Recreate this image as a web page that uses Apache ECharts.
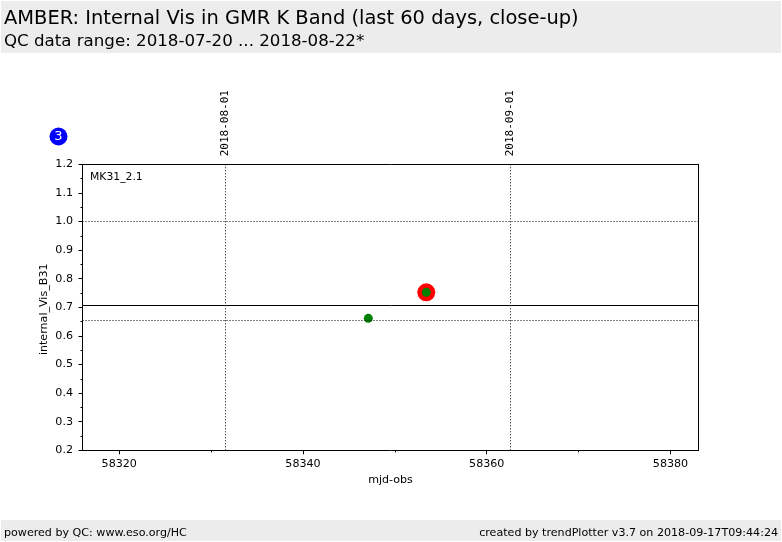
<!DOCTYPE html>
<html><head><meta charset="utf-8">
<style>html,body{margin:0;padding:0;background:#fff}#c{width:782px;height:542px}</style>
<script src="https://cdn.jsdelivr.net/npm/echarts@6/dist/echarts.min.js"></script>
</head><body><div id="c"></div>
<script>
const titleLine1 = 'AMBER: Internal Vis in GMR K Band (last 60 days, close-up)';
const titleLine2 = 'QC data range: 2018-07-20 ... 2018-08-22*';
const footerLeft = 'powered by QC: www.eso.org/HC';
const footerRight = 'created by trendPlotter v3.7 on 2018-09-17T09:44:24';
const panelLabel = 'MK31_2.1';
const badgeText = '3';
const xMajorTicks = [58320, 58340, 58360, 58380];
const xMinorTicks = [58330, 58350, 58370];
const points = [[58347.11, 0.6615], [58353.42, 0.7524]];
const outlierPoints = [[58353.42, 0.7524]];
const meanValue = 0.7063;
const dottedValues = [1.0, 0.6538];
const dateLines = [[58331.566, '2018-08-01'], [58362.587, '2018-09-01']];
const F = 'DejaVu Sans';
const ch = echarts.init(document.getElementById('c'), null, {renderer: 'canvas'});
const dotted = {color: '#000', width: 1, type: [1, 2]};
const band = (y, h) => ({type: 'rect', silent: true, z: -1, shape: {x: 1, y, width: 780, height: h}, style: {fill: '#ececec'}});
const txt = (x, y, text, size, extra) => ({type: 'text', x, y, silent: true, style: Object.assign({text, fontFamily: F, fontSize: size, fill: '#000', textVerticalAlign: 'middle'}, extra || {})});
const xRange = {type: 'value', min: 58316, max: 58383.05};
ch.setOption({
  animation: false,
  backgroundColor: '#fff',
  grid: {left: 82.5, top: 164.3, width: 616, height: 286, show: false},
  xAxis: [Object.assign({}, xRange, {
    position: 'bottom',
    name: 'mjd-obs', nameLocation: 'middle', nameGap: 24,
    nameTextStyle: {fontFamily: F, fontSize: 11.1, color: '#000'},
    splitLine: {show: false},
    axisLine: {show: true, onZero: false, lineStyle: {color: '#000'}},
    axisTick: {show: true, length: 4, lineStyle: {color: '#000'}, customValues: xMajorTicks},
    axisLabel: {show: true, fontFamily: F, fontSize: 11.1, color: '#000', margin: 8.5, customValues: xMajorTicks, formatter: v => String(v), hideOverlap: false, showMinLabel: true, showMaxLabel: true}
  }), Object.assign({}, xRange, {
    position: 'bottom',
    splitLine: {show: false},
    axisLine: {show: false, onZero: false},
    axisTick: {show: true, length: 2, lineStyle: {color: '#000'}, customValues: xMinorTicks},
    axisLabel: {show: false}
  }), Object.assign({}, xRange, {
    position: 'top',
    splitLine: {show: false},
    axisLine: {show: true, onZero: false, lineStyle: {color: '#000'}},
    axisTick: {show: false},
    axisLabel: {show: false}
  })],
  yAxis: [{
    type: 'value', min: 0.2, max: 1.2, interval: 0.1, position: 'left',
    name: 'internal_Vis_B31', nameLocation: 'middle', nameGap: 33, nameRotate: 90, nameMoveOverlap: false,
    nameTextStyle: {fontFamily: F, fontSize: 11.1, color: '#000', padding: [0, 4, 0, 0]},
    splitLine: {show: false},
    axisLine: {show: true, onZero: false, lineStyle: {color: '#000'}},
    axisTick: {show: true, length: 4, lineStyle: {color: '#000'}},
    minorTick: {show: true, splitNumber: 2, length: 2, lineStyle: {color: '#000'}},
    axisLabel: {fontFamily: F, fontSize: 11.1, color: '#000', margin: 9.5, padding: [4, 0, 0, 0], formatter: v => v.toFixed(1)}
  }, {
    type: 'value', min: 0.2, max: 1.2, interval: 0.1, position: 'right',
    splitLine: {show: false},
    axisLine: {show: true, onZero: false, lineStyle: {color: '#000'}},
    axisTick: {show: false},
    axisLabel: {show: false}
  }],
  series: [{
    type: 'scatter', name: 'outlier', data: outlierPoints, symbolSize: 18, z: 3,
    itemStyle: {color: '#ff0000', opacity: 1},
    markLine: {
      silent: true, symbol: 'none', animation: false, precision: 4,
      data: [
        {yAxis: meanValue, lineStyle: {color: '#000', width: 1, type: 'solid'}, label: {show: false}},
        ...dottedValues.map(v => ({yAxis: v, lineStyle: dotted, label: {show: false}})),
        ...dateLines.map(d => ({xAxis: d[0], lineStyle: dotted, label: {
          show: true, position: 'end', formatter: d[1], rotate: 90, distance: 8,
          fontFamily: 'DejaVu Sans Mono', fontSize: 11, color: '#000', align: 'left', verticalAlign: 'middle', padding: [0, 0, 4, 0]
        }}))
      ]
    }
  }, {
    type: 'scatter', name: 'values', data: points, symbolSize: 9, z: 4,
    itemStyle: {color: '#008000', opacity: 1}
  }],
  graphic: [
    band(1, 52), band(520, 21),
    txt(4, 19, titleLine1, 19.45), txt(4, 42, titleLine2, 16.65),
    txt(4, 533, footerLeft, 11.1),
    txt(778, 533, footerRight, 11.1, {textAlign: 'right'}),
    txt(90, 177.5, panelLabel, 10.8),
    {type: 'circle', silent: true, shape: {cx: 58.5, cy: 136.5, r: 9}, style: {fill: '#0000ff'}},
    txt(58.5, 136.5, badgeText, 13, {fill: '#fff', textAlign: 'center'})
  ]
});
</script></body></html>
